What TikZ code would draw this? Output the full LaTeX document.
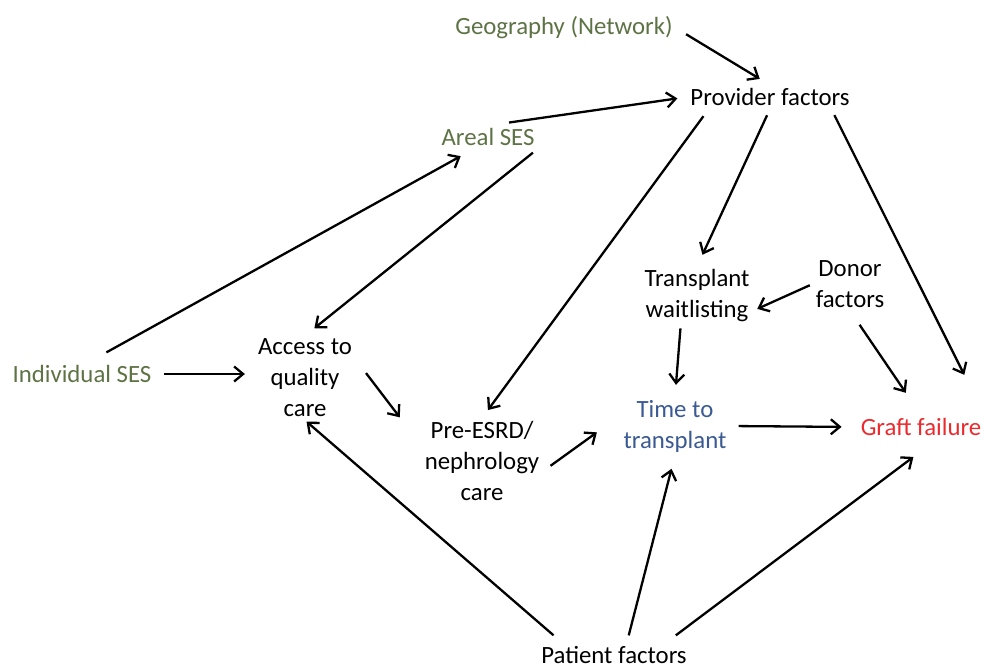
\documentclass[tikz,border=0pt]{standalone}
\usepackage{fontspec}
\setmainfont{Carlito}
\usepackage{tikz}
\usetikzlibrary{arrows.meta}
\definecolor{SEScol}{HTML}{5E7345}
\definecolor{Timecol}{HTML}{3A5A94}
\definecolor{Graftcol}{HTML}{EC2A2E}
\tikzset{
  factor/.style={font=\fontsize{24.8}{31}\selectfont, align=center, inner sep=3pt},
  path/.style={-{Straight Barb[length=9pt,width=15pt,line width=2.3pt]}, line width=2.3pt, black},
}

\begin{document}
\begin{tikzpicture}[x=1pt,y=-1pt]
  \useasboundingbox (0,0) rectangle (984,671);

  % --- 1. Factors ---
  \node[factor, text=SEScol] (geo)    at (564,28)  {Geography (Network)};
  \node[factor]              (prov)   at (770,97)  {Provider factors};
  \node[factor, text=SEScol] (areal)  at (488,137) {Areal SES};
  \node[factor]              (wait)   at (697,296) {Transplant\\waitlisting};
  \node[factor]              (donor)  at (850,284) {Donor\\factors};
  \node[factor, text=SEScol] (indiv)  at (82,374)  {Individual SES};
  \node[factor]              (access) at (305,378) {Access to\\quality\\care};
  \node[factor]              (pre)    at (482,461) {Pre-ESRD/\\nephrology\\care};
  \node[factor, text=Timecol] (time)  at (675,426) {Time to\\transplant};
  \node[factor, text=Graftcol] (graft) at (921,427) {Graft failure};
  \node[factor]              (patient) at (614,655) {Patient factors};

  % --- 2. Upper paths ---
  \draw[path, shorten <=12pt, shorten >=12pt] (geo.east) -- (prov.north);
  \draw[path, shorten <=18pt, shorten >=10pt] (areal.75) -- (prov.west);
  \draw[path, shorten <=20pt, shorten >=15pt] (indiv.60) -- (areal.-140);
  \draw[path, shorten <=6pt, shorten >=12pt] (areal.south east) -- (access.north);
  \draw[path, shorten <=9pt, shorten >=10pt] (prov.191) -- (pre.north);
  \draw[path, shorten <=7pt, shorten >=13pt] (prov.south) -- (wait.north);
  \draw[path, shorten <=7pt, shorten >=45pt] (prov.-11.5) -- (graft.north east);

  % --- 3. Donor and waitlisting ---
  \draw[path, shorten <=3pt, shorten >=5pt] (donor.west) -- (wait.-15);
  \draw[path, shorten <=17pt, shorten >=27pt] (donor.south) -- (graft.north);
  \draw[path, shorten <=3pt, shorten >=12pt] (wait.-119) -- (time.north);

  % --- 4. Care pathway ---
  \draw[path, shorten <=9pt, shorten >=10pt] (indiv.east) -- (indiv.east -| access.west);
  \draw[path, shorten <=18pt, shorten >=36pt] (access.21) -- (pre.166);
  \draw[path, shorten <=10pt, shorten >=29pt] (pre.-10) -- (time.169);
  \draw[path, shorten <=9pt, shorten >=16pt] (time.east) -- (graft.west);

  % --- 5. Patient factors ---
  \draw[path, shorten <=12pt, shorten >=2pt] (patient.167) -- (access.south);
  \draw[path, shorten <=8pt, shorten >=14pt] (patient.43) -- (time.south);
  \draw[path, shorten <=13pt, shorten >=30pt] (patient.13.5) -- (graft.-36);

\end{tikzpicture}
\end{document}
